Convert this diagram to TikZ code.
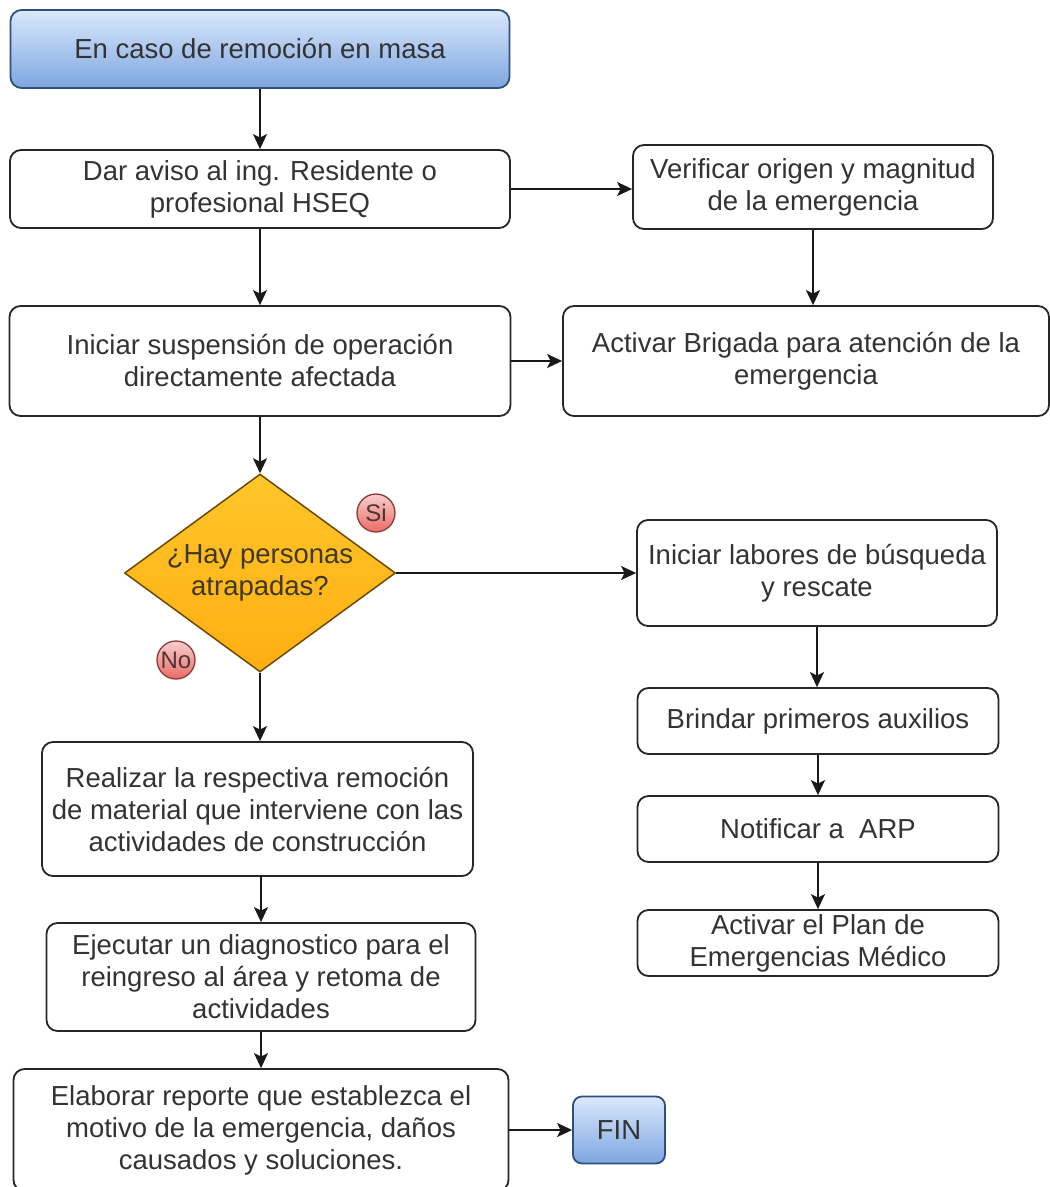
\documentclass[tikz,border=0pt]{standalone}
\usepackage{fontspec}
\setmainfont{Liberation Sans}
\usetikzlibrary{shapes.geometric,arrows.meta}
\definecolor{txt}{HTML}{333333}
\definecolor{bluetop}{HTML}{DAE8FC}
\definecolor{bluebot}{HTML}{7EA6E0}
\definecolor{blueline}{HTML}{2F4F7F}
\definecolor{yeltop}{HTML}{FFC62A}
\definecolor{yelbot}{HTML}{FFAE12}
\definecolor{yelline}{HTML}{6B4A00}
\definecolor{redtop}{HTML}{F8CECC}
\definecolor{redbot}{HTML}{EA6B66}
\definecolor{redline}{HTML}{8A3A37}
\tikzset{
  box/.style={draw=black!85, line width=1.8pt, rounded corners=11pt, fill=white,
    align=center, text=txt, inner sep=0pt,
    font=\fontsize{27.5}{32}\selectfont},
  bluebox/.style={box, top color=bluetop, bottom color=bluebot, draw=blueline},
  decision/.style={diamond, draw=yelline, line width=1.5pt, top color=yeltop, bottom color=yelbot,
    align=center, text=txt!80!yelline, inner sep=0pt, aspect=1.37,
    font=\fontsize{27.5}{32}\selectfont},
  tag/.style={circle, draw=redline, line width=1.3pt, top color=redtop, bottom color=redbot,
    minimum size=38pt, inner sep=0pt, text=txt!70!redline,
    font=\fontsize{24}{26}\selectfont},
  conn/.style={draw=black!90, line width=1.8pt, -{Stealth[length=15pt,width=14pt,inset=3.5pt]}}
}
\begin{document}
\begin{tikzpicture}[x=1pt,y=-1pt]
\useasboundingbox (0,0) rectangle (1050,1187);
\fill[white] (0,0) rectangle (1050,1187);

\node[bluebox, minimum width=499pt, minimum height=78pt] (start) at (260,49) {En caso de remoción en masa};
\node[box, minimum width=500pt, minimum height=78pt] (b1) at (260,189) {Dar aviso al ing. Residente o\\profesional HSEQ};
\node[box, minimum width=360pt, minimum height=84pt] (b2) at (813,187) {Verificar origen y magnitud\\de la emergencia};
\node[box, minimum width=501pt, minimum height=110pt] (b3) at (260,361) {Iniciar suspensión de operación\\directamente afectada};
\node[box, minimum width=486pt, minimum height=110pt] (b4) at (806,361) {Activar Brigada para atención de la\\emergencia};

\node[decision, minimum width=271pt, minimum height=198pt] (d) at (260,573) {¿Hay personas\\atrapadas?};
\node[tag] (si) at (376,513) {Si};
\node[tag] (no) at (176,660) {No};

\node[box, minimum width=360pt, minimum height=106pt] (b5) at (817,573) {Iniciar labores de búsqueda\\y rescate};
\node[box, minimum width=361pt, minimum height=66pt] (b6) at (818,721) {Brindar primeros auxilios};
\node[box, minimum width=361pt, minimum height=66pt] (b7) at (818,829) {Notificar a~~ARP};
\node[box, minimum width=361pt, minimum height=66pt] (b8) at (818,943) {Activar el Plan de\\Emergencias Médico};

\node[box, minimum width=431pt, minimum height=134pt] (b9) at (257.5,809) {Realizar la respectiva remoción\\de material que interviene con las\\actividades de construcción};
\node[box, minimum width=429pt, minimum height=108pt] (b10) at (261,977) {Ejecutar un diagnostico para el\\reingreso al área y retoma de\\actividades};
\node[box, minimum width=495pt, minimum height=122pt] (b11) at (261,1130) {Elaborar reporte que establezca el\\motivo de la emergencia, daños\\causados y soluciones.};
\node[bluebox, minimum width=92pt, minimum height=67pt, rounded corners=9pt] (fin) at (619,1130) {FIN};

\coordinate (c9) at (261,876);

\path[conn] (start.south) -- (b1.north);
\path[conn] (b1.east) -- (b1.east -| b2.west);
\path[conn] (b1.south) -- (b3.north);
\path[conn] (b2.south) -- (b2.south |- b4.north);
\path[conn] (b3.east) -- (b4.west);
\path[conn] (b3.south) -- (d.north);
\path[conn] (d.east) -- (b5.west);
\path[conn] (d.south) -- (d.south |- b9.north);
\path[conn] (b5.south) -- (b5.south |- b6.north);
\path[conn] (b6.south) -- (b7.north);
\path[conn] (b7.south) -- (b8.north);
\path[conn] (c9) -- (c9 |- b10.north);
\path[conn] (b10.south) -- (b11.north);
\path[conn] (b11.east) -- (fin.west);
\end{tikzpicture}
\end{document}
